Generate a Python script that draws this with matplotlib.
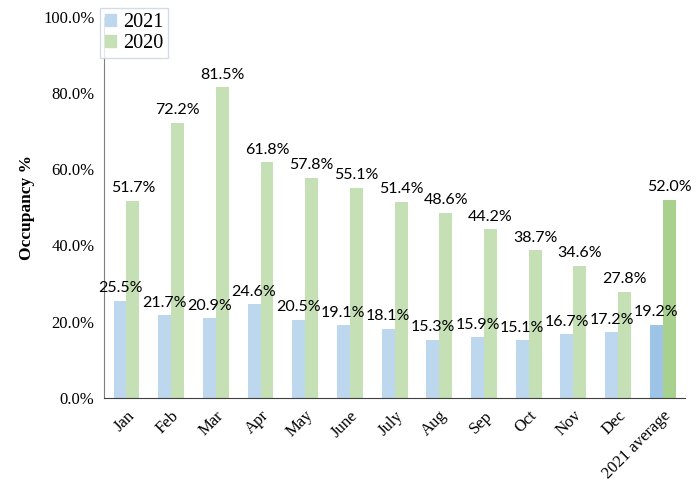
import matplotlib.pyplot as plt
import numpy as np

months = ['Jan', 'Feb', 'Mar', 'Apr', 'May', 'June', 'July', 'Aug', 'Sep',
          'Oct', 'Nov', 'Dec', '2021 average']
occ_2021 = [25.5, 21.7, 20.9, 24.6, 20.5, 19.1, 18.1, 15.3, 15.9, 15.1, 16.7, 17.2, 19.2]
occ_2020 = [51.7, 72.2, 81.5, 61.8, 57.8, 55.1, 51.4, 48.6, 44.2, 38.7, 34.6, 27.8, 52.0]

blue = ['#bdd7ee'] * 12 + ['#9dc3e6']
green = ['#c5e0b4'] * 12 + ['#a9d18e']

fig = plt.figure(figsize=(6.99, 4.93), dpi=100)
ax = fig.add_axes([0.149, 0.193, 0.831, 0.773])

x = np.arange(len(months))
w = 0.29
b1 = ax.bar(x - w/2, occ_2021, w, color=blue, label='2021')
b2 = ax.bar(x + w/2, occ_2020, w, color=green, label='2020')

lab_font = dict(family='Lato', fontsize=11.5, color='black')
for bars, vals in [(b1, occ_2021), (b2, occ_2020)]:
    for r, v in zip(bars, vals):
        ax.annotate('%.1f%%' % v, (r.get_x() + r.get_width()/2, v),
                    xytext=(0, 4), textcoords='offset points',
                    ha='center', va='bottom', **lab_font)

ax.set_xlim(-0.5, 12.5)
ax.set_ylim(0, 100)
ax.set_yticks(np.arange(0, 101, 20))
ax.set_yticklabels(['%.1f%%' % t for t in np.arange(0, 101, 20)],
                   family='Liberation Serif', fontsize=12)
ax.set_xticks(x)
ax.set_xticklabels(months, rotation=45, ha='right', rotation_mode='anchor',
                   family='Liberation Serif', fontsize=12)
ax.tick_params(length=0, pad=7)
ax.set_ylabel('Occupancy %', family='Liberation Serif', fontsize=12.5,
              fontweight='bold', labelpad=6)

for s in ['top', 'right']:
    ax.spines[s].set_visible(False)
ax.spines['left'].set_color('#7f7f7f')
ax.spines['bottom'].set_color('#404040')

leg = ax.legend(loc='upper left', bbox_to_anchor=(-0.008, 1.022), fancybox=False,
                prop={'family': 'Liberation Serif', 'size': 14.5},
                handlelength=0.55, handleheight=0.55, handletextpad=0.35,
                borderpad=0.25, labelspacing=0.1, borderaxespad=0)
leg.get_frame().set_edgecolor('#c9d3e0')
leg.get_frame().set_linewidth(1.0)
leg.legend_handles[0].set_color('#bdd7ee')
leg.legend_handles[1].set_color('#c5e0b4')

plt.savefig('out.png', dpi=100)
